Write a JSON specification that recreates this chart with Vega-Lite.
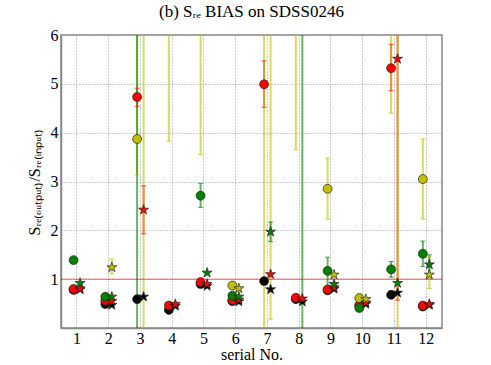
{
  "$schema": "https://vega.github.io/schema/vega-lite/v6.json",
  "autosize": {"type": "none"},
  "padding": {"left": 61, "top": 35, "right": 49, "bottom": 37},
  "width": 381,
  "height": 293,
  "background": "white",
  "title": {"text": "(b) Sᵣₑ BIAS on SDSS0246", "font": "Liberation Serif, Times New Roman, serif", "fontSize": 17, "fontWeight": "normal", "color": "black", "offset": 6, "anchor": "middle"},
  "config": {
    "font": "Liberation Serif, Times New Roman, serif",
    "view": {"stroke": "#888888", "strokeWidth": 1.5},
    "axis": {"labelFont": "Liberation Serif, Times New Roman, serif", "titleFont": "Liberation Serif, Times New Roman, serif", "labelFontSize": 16, "titleFontSize": 16, "labelColor": "black", "titleColor": "black", "titleFontWeight": "normal", "domainColor": "#888888", "domainWidth": 1.5, "ticks": false, "gridColor": "#9a9a9a", "gridDash": [1, 2], "gridWidth": 1}
  },
  "layer": [
    {
      "data": {"name": "pts"},
      "transform": [{"filter": "isValid(datum.lo)"}],
      "mark": {"type": "rule", "clip": true, "strokeWidth": 2, "opacity": 0.6},
      "encoding": {
        "x": {"field": "s", "type": "ordinal", "scale": {"type": "band", "paddingInner": 0, "paddingOuter": 0}, "axis": {"title": "serial No.", "labelAngle": 0, "labelPadding": 2, "titlePadding": 0, "grid": true, "bandPosition": 0.5}},
        "xOffset": {"field": "m", "type": "nominal", "scale": {"type": "point", "padding": 0, "domain": ["circle", "star"], "range": [12.6, 19.1]}},
        "color": {"field": "c", "type": "nominal", "legend": null, "scale": {"domain": ["k", "r", "y", "g"], "range": ["#000000", "#ff0000", "#bfbf00", "#008000"]}},
        "y": {"field": "lo", "type": "quantitative", "scale": {"domain": [0, 6], "nice": false, "zero": false}, "axis": {"title": "Sᵣₑ₍ₒᵤₜₚᵤₜ₎/Sᵣₑ₍ᵢₙₚᵤₜ₎", "values": [1, 2, 3, 4, 5, 6], "labelPadding": 3, "titlePadding": 8, "grid": true}},
        "y2": {"field": "hi"}
      }
    },
    {
      "data": {"name": "pts"},
      "transform": [{"filter": "isValid(datum.lo)"}],
      "mark": {"type": "tick", "clip": true, "size": 5, "thickness": 1.2, "opacity": 0.6},
      "encoding": {
        "x": {"field": "s", "type": "ordinal"},
        "xOffset": {"field": "m", "type": "nominal"},
        "color": {"field": "c", "type": "nominal", "legend": null},
        "y": {"field": "lo", "type": "quantitative"}
      }
    },
    {
      "data": {"name": "pts"},
      "transform": [{"filter": "isValid(datum.lo)"}],
      "mark": {"type": "tick", "clip": true, "size": 5, "thickness": 1.2, "opacity": 0.6},
      "encoding": {
        "x": {"field": "s", "type": "ordinal"},
        "xOffset": {"field": "m", "type": "nominal"},
        "color": {"field": "c", "type": "nominal", "legend": null},
        "y": {"field": "hi", "type": "quantitative"}
      }
    },
    {
      "data": {"values": [{"ref": "y=1"}]},
      "mark": {"type": "rule", "color": "#ff0000", "strokeWidth": 0.8, "opacity": 0.8},
      "encoding": {"y": {"datum": 1}}
    },
    {
      "data": {"name": "pts"},
      "transform": [{"filter": "datum.m == 'circle'"}],
      "mark": {"type": "point", "shape": "circle", "filled": true, "size": 80, "clip": true, "stroke": "#222222", "strokeWidth": 0.7, "opacity": 1},
      "encoding": {
        "x": {"field": "s", "type": "ordinal"},
        "xOffset": {"field": "m", "type": "nominal"},
        "y": {"field": "v", "type": "quantitative"},
        "fill": {"field": "c", "type": "nominal", "legend": null, "scale": {"domain": ["k", "r", "y", "g"], "range": ["#000000", "#ff0000", "#bfbf00", "#008000"]}}
      }
    },
    {
      "data": {"name": "pts"},
      "transform": [{"filter": "datum.m == 'star'"}],
      "mark": {"type": "point", "shape": "M0,-1L0.225,-0.309L0.951,-0.309L0.363,0.118L0.588,0.809L0,0.382L-0.588,0.809L-0.363,0.118L-0.951,-0.309L-0.225,-0.309Z", "filled": true, "size": 110, "clip": true, "stroke": "#222222", "strokeWidth": 0.7, "opacity": 1},
      "encoding": {
        "x": {"field": "s", "type": "ordinal"},
        "xOffset": {"field": "m", "type": "nominal"},
        "y": {"field": "v", "type": "quantitative"},
        "fill": {"field": "c", "type": "nominal", "legend": null}
      }
    }
  ],
  "datasets": {"pts": [
    {"s": 1, "m": "circle", "c": "k", "v": 0.78},
    {"s": 1, "m": "star", "c": "k", "v": 0.79},
    {"s": 2, "m": "circle", "c": "k", "v": 0.49},
    {"s": 2, "m": "star", "c": "k", "v": 0.47},
    {"s": 3, "m": "circle", "c": "k", "v": 0.59},
    {"s": 3, "m": "star", "c": "k", "v": 0.64},
    {"s": 4, "m": "circle", "c": "k", "v": 0.37},
    {"s": 4, "m": "star", "c": "k", "v": 0.45},
    {"s": 5, "m": "circle", "c": "k", "v": 0.90},
    {"s": 5, "m": "star", "c": "k", "v": 0.86},
    {"s": 6, "m": "circle", "c": "k", "v": 0.55},
    {"s": 6, "m": "star", "c": "k", "v": 0.54},
    {"s": 7, "m": "circle", "c": "k", "v": 0.96},
    {"s": 7, "m": "star", "c": "k", "v": 0.79},
    {"s": 8, "m": "circle", "c": "k", "v": 0.59},
    {"s": 8, "m": "star", "c": "k", "v": 0.54},
    {"s": 9, "m": "circle", "c": "k", "v": 0.77},
    {"s": 9, "m": "star", "c": "k", "v": 0.80},
    {"s": 10, "m": "circle", "c": "k", "v": 0.45},
    {"s": 10, "m": "star", "c": "k", "v": 0.49},
    {"s": 11, "m": "circle", "c": "k", "v": 0.68},
    {"s": 11, "m": "star", "c": "k", "v": 0.72},
    {"s": 12, "m": "circle", "c": "k", "v": 0.44},
    {"s": 12, "m": "star", "c": "k", "v": 0.47},
    {"s": 1, "m": "circle", "c": "r", "v": 0.80},
    {"s": 1, "m": "star", "c": "r", "v": 0.81},
    {"s": 2, "m": "circle", "c": "r", "v": 0.56},
    {"s": 2, "m": "star", "c": "r", "v": 0.55},
    {"s": 3, "m": "circle", "c": "r", "v": 4.73, "lo": 4.54, "hi": 4.91},
    {"s": 3, "m": "star", "c": "r", "v": 2.42, "lo": 1.93, "hi": 2.91},
    {"s": 4, "m": "circle", "c": "r", "v": 0.46},
    {"s": 4, "m": "star", "c": "r", "v": 0.49},
    {"s": 5, "m": "circle", "c": "r", "v": 0.94},
    {"s": 5, "m": "star", "c": "r", "v": 0.90},
    {"s": 6, "m": "circle", "c": "r", "v": 0.57},
    {"s": 6, "m": "star", "c": "r", "v": 0.58},
    {"s": 7, "m": "circle", "c": "r", "v": 4.99, "lo": 4.52, "hi": 5.47},
    {"s": 7, "m": "star", "c": "r", "v": 1.10},
    {"s": 8, "m": "circle", "c": "r", "v": 0.62},
    {"s": 8, "m": "star", "c": "r", "v": 0.60},
    {"s": 9, "m": "circle", "c": "r", "v": 0.79},
    {"s": 9, "m": "star", "c": "r", "v": 0.83},
    {"s": 10, "m": "circle", "c": "r", "v": 0.47},
    {"s": 10, "m": "star", "c": "r", "v": 0.52},
    {"s": 11, "m": "circle", "c": "r", "v": 5.32, "lo": 4.86, "hi": 5.81},
    {"s": 11, "m": "star", "c": "r", "v": 5.51, "lo": 0.57, "hi": 10.45},
    {"s": 12, "m": "circle", "c": "r", "v": 0.46},
    {"s": 12, "m": "star", "c": "r", "v": 0.49},
    {"s": 2, "m": "star", "c": "y", "v": 1.24, "lo": 1.11, "hi": 1.41},
    {"s": 3, "m": "circle", "c": "y", "v": 3.87, "lo": 3.13, "hi": 8},
    {"s": 3, "m": "star", "c": "y", "v": 9, "lo": -2, "hi": 20},
    {"s": 4, "m": "circle", "c": "y", "v": 8, "lo": 3.83, "hi": 12},
    {"s": 5, "m": "circle", "c": "y", "v": 8, "lo": 3.55, "hi": 12},
    {"s": 6, "m": "circle", "c": "y", "v": 0.87},
    {"s": 6, "m": "star", "c": "y", "v": 0.81},
    {"s": 7, "m": "circle", "c": "y", "v": 10, "lo": -2, "hi": 20},
    {"s": 7, "m": "star", "c": "y", "v": 9, "lo": 0.18, "hi": 18},
    {"s": 8, "m": "circle", "c": "y", "v": 8, "lo": 3.65, "hi": 12},
    {"s": 9, "m": "circle", "c": "y", "v": 2.85, "lo": 2.23, "hi": 3.48},
    {"s": 9, "m": "star", "c": "y", "v": 1.09},
    {"s": 10, "m": "circle", "c": "y", "v": 0.61, "lo": 0.52, "hi": 0.70},
    {"s": 10, "m": "star", "c": "y", "v": 0.59},
    {"s": 11, "m": "circle", "c": "y", "v": 8, "lo": 4.40, "hi": 12},
    {"s": 11, "m": "star", "c": "y", "v": 10, "lo": -2, "hi": 20},
    {"s": 12, "m": "circle", "c": "y", "v": 3.05, "lo": 2.23, "hi": 3.87},
    {"s": 12, "m": "star", "c": "y", "v": 1.09, "lo": 0.81, "hi": 1.46},
    {"s": 1, "m": "circle", "c": "g", "v": 1.39},
    {"s": 1, "m": "star", "c": "g", "v": 0.92},
    {"s": 2, "m": "circle", "c": "g", "v": 0.64},
    {"s": 2, "m": "star", "c": "g", "v": 0.64},
    {"s": 3, "m": "circle", "c": "g", "v": 8, "lo": -2, "hi": 20},
    {"s": 5, "m": "circle", "c": "g", "v": 2.71, "lo": 2.47, "hi": 2.96},
    {"s": 5, "m": "star", "c": "g", "v": 1.13},
    {"s": 6, "m": "circle", "c": "g", "v": 0.66},
    {"s": 6, "m": "star", "c": "g", "v": 0.64},
    {"s": 7, "m": "star", "c": "g", "v": 1.97, "lo": 1.77, "hi": 2.17},
    {"s": 8, "m": "star", "c": "g", "v": 10, "lo": -2, "hi": 20},
    {"s": 9, "m": "circle", "c": "g", "v": 1.17, "lo": 0.85, "hi": 1.45},
    {"s": 9, "m": "star", "c": "g", "v": 0.90},
    {"s": 10, "m": "circle", "c": "g", "v": 0.41},
    {"s": 11, "m": "circle", "c": "g", "v": 1.20, "lo": 1.04, "hi": 1.36},
    {"s": 11, "m": "star", "c": "g", "v": 0.92},
    {"s": 12, "m": "circle", "c": "g", "v": 1.52, "lo": 1.26, "hi": 1.78},
    {"s": 12, "m": "star", "c": "g", "v": 1.30, "lo": 1.10, "hi": 1.50}
  ]}
}
